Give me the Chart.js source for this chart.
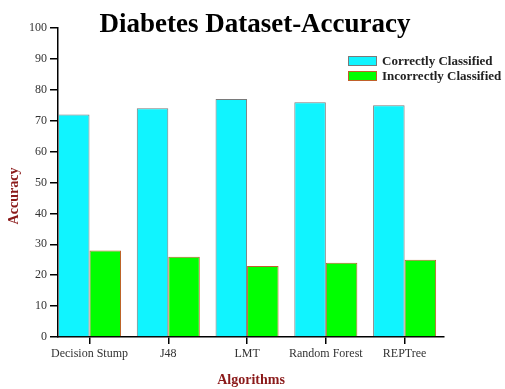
<!DOCTYPE html>
<html>
<head>
<meta charset="utf-8">
<script src="https://cdn.jsdelivr.net/npm/chart.js@4/dist/chart.umd.min.js"></script>
<style>
  body { margin: 0; background: #fff; }
  canvas { display: block; }
</style>
</head>
<body>
<canvas id="myChart" width="505" height="389"></canvas>
<script>
const algorithms = ['Decision Stump', 'J48', 'LMT', 'Random Forest', 'REPTree'];
const correctly = [72, 74, 77, 76, 75];
const incorrectly = [28, 26, 23, 24, 25];
const seriesNames = ['Correctly Classified', 'Incorrectly Classified'];
const yTicks = [0, 10, 20, 30, 40, 50, 60, 70, 80, 90, 100];

const serif = "'Liberation Serif', 'Times New Roman', serif";
const darkRed = '#8b1a1a';

// title, y title and legend are drawn by hand so they sit where the picture has them
const titlePlugin = {
    id: 'titleAndLegend',
    afterDraw(chart) {
        const ctx = chart.ctx;
        ctx.save();
        ctx.fillStyle = '#000';
        ctx.font = "bold 27px " + serif;
        ctx.textAlign = 'center';
        ctx.textBaseline = 'alphabetic';
        ctx.fillText('Diabetes Dataset-Accuracy', 255, 32);

        // y axis title
        ctx.save();
        ctx.translate(14, 196);
        ctx.rotate(-Math.PI / 2);
        ctx.fillStyle = darkRed;
        ctx.font = "bold 14px " + serif;
        ctx.textBaseline = 'middle';
        ctx.fillText('Accuracy', 0, 0);
        ctx.restore();

        const ds = chart.data.datasets;
        ctx.font = "bold 13px " + serif;
        ctx.textAlign = 'left';
        ctx.textBaseline = 'middle';
        for (let i = 0; i < ds.length; i++) {
            const y = 61 + i * 15;
            ctx.fillStyle = ds[i].backgroundColor;
            ctx.fillRect(348, y - 5, 29, 10);
            ctx.strokeStyle = ds[i].borderColor;
            ctx.lineWidth = 1;
            ctx.strokeRect(348.5, y - 4.5, 28, 9);
            ctx.fillStyle = '#222';
            ctx.fillText(ds[i].label, 382, y + 1);
        }
        ctx.restore();
    }
};

const ctx = document.getElementById('myChart');
new Chart(ctx, {
    type: 'bar',
    data: {
        datasets: [{
            label: seriesNames[0],
            data: correctly.map((v, i) => ({ x: i + 1, y: v })),
            backgroundColor: '#10f4ff',
            borderColor: '#7a7a7a',
            borderWidth: 1
        }, {
            label: seriesNames[1],
            data: incorrectly.map((v, i) => ({ x: i + 1, y: v })),
            backgroundColor: '#00ff00',
            borderColor: '#c0602a',
            borderWidth: 1
        }]
    },
    options: {
        responsive: false,
        animation: false,
        categoryPercentage: 0.8,
        barPercentage: 1,
        layout: {
            padding: { top: 28, right: 61, left: 0, bottom: 0 }
        },
        scales: {
            x: {
                type: 'linear',
                bounds: 'data',
                offset: false,
                min: 0.6,
                max: 5.5,
                afterFit: (s) => { s.height = 52; },
                afterBuildTicks: (s) => { s.ticks = algorithms.map((a, i) => ({ value: i + 1 })); },
                ticks: {
                    autoSkip: false,
                    maxRotation: 0,
                    padding: 3,
                    color: '#333',
                    font: { family: serif, size: 12 },
                    callback: (v) => algorithms[v - 1] || ''
                },
                grid: {
                    offset: false,
                    drawOnChartArea: false,
                    tickLength: 7,
                    color: '#000',
                    lineWidth: 1.5
                },
                border: { color: '#000', width: 1.5 },
                title: {
                    display: true,
                    text: 'Algorithms',
                    color: darkRed,
                    font: { family: serif, size: 14, weight: 'bold' },
                    padding: { top: 4, bottom: 0 }
                }
            },
            y: {
                min: 0,
                max: 100,
                afterFit: (s) => { s.width = 58; },
                afterBuildTicks: (s) => { s.ticks = yTicks.map(v => ({ value: v })); },
                ticks: {
                    padding: 3,
                    color: '#333',
                    font: { family: serif, size: 12 }
                },
                grid: {
                    drawOnChartArea: false,
                    tickLength: 8,
                    color: '#000',
                    lineWidth: 1.5
                },
                border: { color: '#000', width: 1.5 }
            }
        },
        plugins: {
            legend: { display: false },
            tooltip: { enabled: false }
        }
    },
    plugins: [titlePlugin]
});
</script>
</body>
</html>
